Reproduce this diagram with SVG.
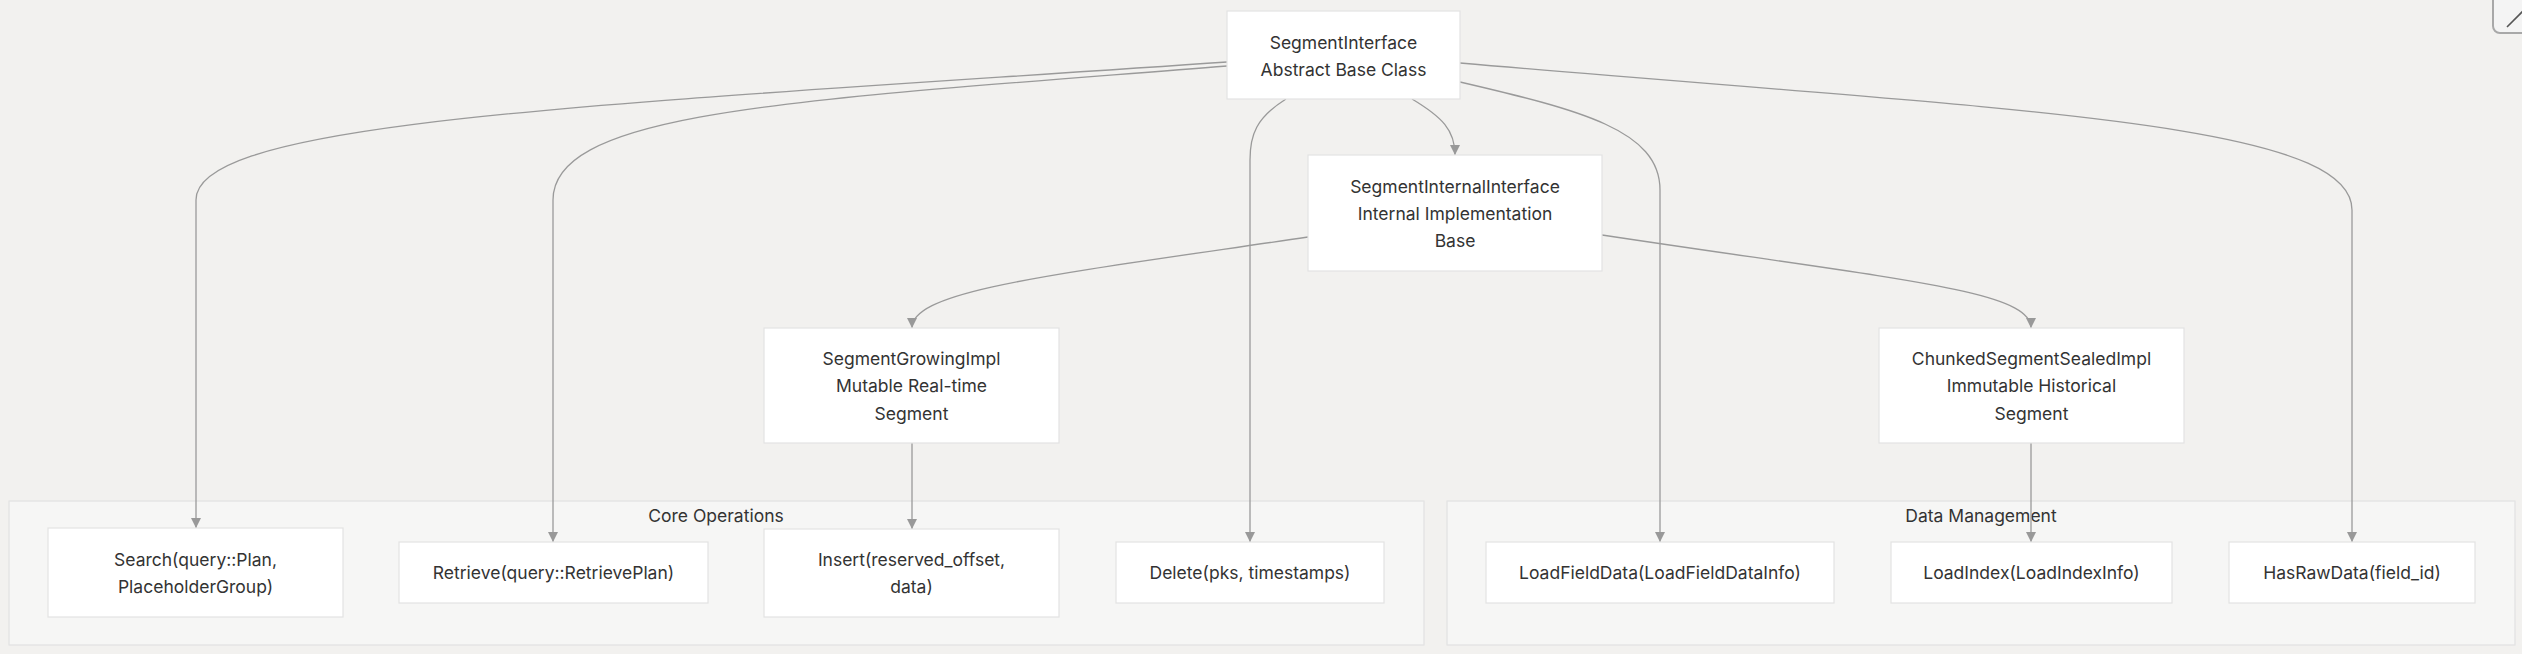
<svg xmlns="http://www.w3.org/2000/svg" width="2522" height="654" viewBox="0 0 2522 654">
<defs>
<style>
.bg{fill:#f2f1ef}
.cluster rect{fill:#f6f6f5;stroke:#e2e2e2;stroke-width:1.2}
.cluster text{font-family:Inter,"Liberation Sans",sans-serif;font-size:17.5px;fill:#333;text-anchor:middle;dominant-baseline:central}
.node rect{fill:#ffffff;stroke:#e3e3e3;stroke-width:1.2}
.node text{font-family:Inter,"Liberation Sans",sans-serif;font-size:17.5px;fill:#333;text-anchor:middle;dominant-baseline:central}
.edges path{fill:none;stroke:#9a9a9a;stroke-width:1.3}
</style>
<marker id="arrow" viewBox="0 0 10 10" refX="10" refY="5" markerWidth="10" markerHeight="10" markerUnits="userSpaceOnUse" orient="auto">
<path d="M0,0 L10,5 L0,10 z" fill="#999"/>
</marker>
</defs>
<rect class="bg" x="0" y="0" width="2522" height="654"/>

<g id="cluster-core" class="cluster">
<rect x="9" y="501" width="1415" height="144"/>
<text x="716" y="515">Core Operations</text>
</g>
<g id="cluster-data" class="cluster">
<rect x="1447" y="501" width="1068" height="144"/>
<text x="1981" y="515">Data Management</text>
</g>

<g class="edges" id="edges">
<path marker-end="url(#arrow)" d="M1227,62 C600,105 196,120 196,200 L196,528"/>
<path marker-end="url(#arrow)" d="M1227,66 C800,100 553,110 553,200 L553,542"/>
<path marker-end="url(#arrow)" d="M1286,99 C1256,118 1250,135 1250,160 L1250,542"/>
<path marker-end="url(#arrow)" d="M1412,99 C1442,117 1455,130 1455,155"/>
<path marker-end="url(#arrow)" d="M1460,82 C1580,110 1660,130 1660,190 L1660,542"/>
<path marker-end="url(#arrow)" d="M1460,63 C2000,110 2352,120 2352,210 L2352,542"/>
<path marker-end="url(#arrow)" d="M1308,237 C1050,275 912,290 912,328"/>
<path marker-end="url(#arrow)" d="M1602,235 C1900,280 2031,290 2031,328"/>
<path marker-end="url(#arrow)" d="M912,443 L912,529"/>
<path marker-end="url(#arrow)" d="M2031,443 L2031,542"/>
</g>

<g id="SegmentInterface" class="node">
<rect x="1227" y="11" width="233" height="88"/>
<text x="1343.5" y="42">SegmentInterface</text>
<text x="1343.5" y="69">Abstract Base Class</text>
</g>
<g id="SegmentInternalInterface" class="node">
<rect x="1308" y="155" width="294" height="116"/>
<text x="1455" y="186">SegmentInternalInterface</text>
<text x="1455" y="213">Internal Implementation</text>
<text x="1455" y="240">Base</text>
</g>
<g id="SegmentGrowingImpl" class="node">
<rect x="764" y="328" width="295" height="115"/>
<text x="911.5" y="358">SegmentGrowingImpl</text>
<text x="911.5" y="385.5">Mutable Real-time</text>
<text x="911.5" y="413">Segment</text>
</g>
<g id="ChunkedSegmentSealedImpl" class="node">
<rect x="1879" y="328" width="305" height="115"/>
<text x="2031.5" y="358">ChunkedSegmentSealedImpl</text>
<text x="2031.5" y="385.5">Immutable Historical</text>
<text x="2031.5" y="413">Segment</text>
</g>
<g id="Search" class="node">
<rect x="48" y="528" width="295" height="89"/>
<text x="195.5" y="559">Search(query::Plan,</text>
<text x="195.5" y="586">PlaceholderGroup)</text>
</g>
<g id="Retrieve" class="node">
<rect x="399" y="542" width="309" height="61"/>
<text x="553.5" y="572.5">Retrieve(query::RetrievePlan)</text>
</g>
<g id="Insert" class="node">
<rect x="764" y="529" width="295" height="88"/>
<text x="911.5" y="559">Insert(reserved_offset,</text>
<text x="911.5" y="586">data)</text>
</g>
<g id="Delete" class="node">
<rect x="1116" y="542" width="268" height="61"/>
<text x="1250" y="572.5">Delete(pks, timestamps)</text>
</g>
<g id="LoadFieldData" class="node">
<rect x="1486" y="542" width="348" height="61"/>
<text x="1660" y="572.5">LoadFieldData(LoadFieldDataInfo)</text>
</g>
<g id="LoadIndex" class="node">
<rect x="1891" y="542" width="281" height="61"/>
<text x="2031.5" y="572.5">LoadIndex(LoadIndexInfo)</text>
</g>
<g id="HasRawData" class="node">
<rect x="2229" y="542" width="246" height="61"/>
<text x="2352" y="572.5">HasRawData(field_id)</text>
</g>

<g id="corner-button">
<rect x="2493" y="-12" width="44" height="45" rx="7" ry="7" fill="#f4f4f4" stroke="#a8a8a8" stroke-width="2"/>
<path d="M2507,27 L2525,9" stroke="#555" stroke-width="1.6" fill="none"/>
</g>
</svg>
